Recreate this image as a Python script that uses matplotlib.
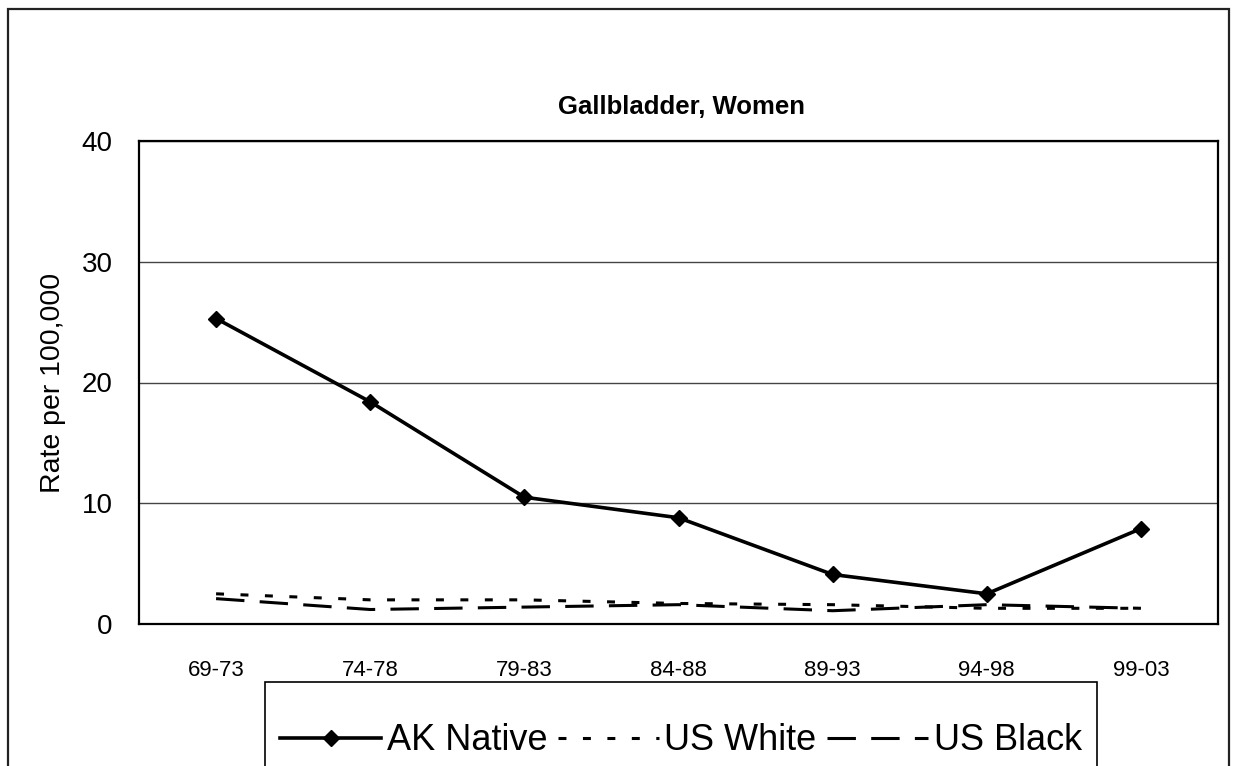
import matplotlib
matplotlib.use("Agg")
import matplotlib.pyplot as plt
from matplotlib.patches import Rectangle

plt.rcParams['font.family'] = ['Liberation Sans', 'DejaVu Sans']

# Five-year periods and rates per 100,000
periods = ["69-73", "74-78", "79-83", "84-88", "89-93", "94-98", "99-03"]
ak_native = [25.3, 18.4, 10.5, 8.8, 4.1, 2.5, 7.9]
us_white = [2.5, 2.0, 2.0, 1.7, 1.6, 1.3, 1.3]
us_black = [2.1, 1.2, 1.4, 1.6, 1.1, 1.6, 1.3]
y_ticks = [0, 10, 20, 30, 40]

W, H = 1235, 766
fig = plt.figure(figsize=(W / 100, H / 100), dpi=100)
fig.patch.set_facecolor("white")

# outer chart frame (bottom edge runs off the canvas)
fig.add_artist(Rectangle((8 / W, -0.2), (1229 - 8) / W, 1 - 9 / H + 0.2,
                         transform=fig.transFigure, fill=False,
                         edgecolor="#222222", linewidth=1.6))

ax = fig.add_axes([139 / W, 1 - 624 / H, (1218 - 139) / W, (624 - 141) / H])

x = list(range(len(periods)))
ax.plot(x, ak_native, color="black", linewidth=2.6, marker="D",
        markersize=8, label="AK Native", solid_joinstyle="miter")
ax.plot(x, us_white, color="black", linewidth=2.2, dashes=(2.6, 5.4),
        label="US White")
ax.plot(x, us_black, color="black", linewidth=2.2, dashes=(9.3, 5.0),
        label="US Black")

ax.set_xlim(-0.5, len(periods) - 0.5)
ax.set_ylim(0, 40)
ax.set_yticks(y_ticks)
ax.set_xticks(x)
ax.set_xticklabels(periods)
ax.tick_params(axis="y", length=0, pad=19, labelsize=20)
ax.tick_params(axis="x", length=0, pad=26, labelsize=16)
ax.yaxis.grid(True, color="#444444", linewidth=1.0)
ax.set_axisbelow(True)
for s in ax.spines.values():
    s.set_linewidth(1.6)
    s.set_color("black")

ax.set_ylabel("Rate per 100,000", fontsize=20.5)
ax.yaxis.set_label_coords(-0.068, 0.5)

fig.text(681 / W, 1 - 107 / H, "Gallbladder, Women", ha="center",
         va="center", fontsize=18.5, fontweight="bold")

# legend box (runs off the bottom of the canvas)
fig.add_artist(Rectangle((265 / W, -0.2), (1097 - 265) / W, 1 - 682 / H + 0.2,
                         transform=fig.transFigure, fill=False,
                         edgecolor="black", linewidth=1.2))
leg = fig.legend(loc="center", bbox_to_anchor=(681 / W, 1 - 741 / H),
                 ncol=3, fontsize=26, frameon=False,
                 handlelength=2.8, handletextpad=0.15,
                 columnspacing=0.3, borderaxespad=0, borderpad=0.0)

fig.savefig("out.png", dpi=100)
